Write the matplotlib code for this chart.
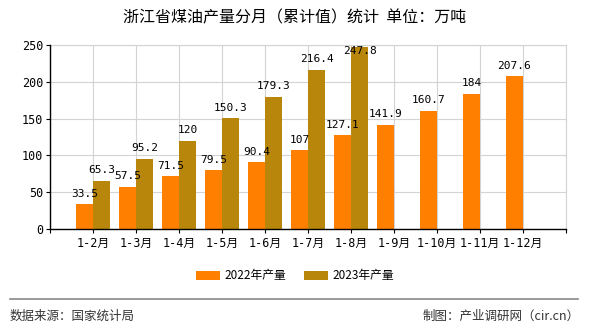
import numpy as np
import matplotlib.pyplot as plt
from matplotlib.lines import Line2D

plt.rcParams['font.family'] = ['Noto Sans CJK SC', 'DejaVu Sans']

months = ['1-2月', '1-3月', '1-4月', '1-5月', '1-6月', '1-7月', '1-8月',
          '1-9月', '1-10月', '1-11月', '1-12月']
prod_2022 = [33.5, 57.5, 71.5, 79.5, 90.4, 107, 127.1, 141.9, 160.7, 184, 207.6]
prod_2023 = [65.3, 95.2, 120, 150.3, 179.3, 216.4, 247.8]

c22 = '#ff8000'
c23 = '#b8860b'
mono = ['DejaVu Sans Mono', 'Noto Sans CJK SC']

fig = plt.figure(figsize=(5.9, 3.3), dpi=100)
ax = fig.add_axes([50/590, 1-229/330, 516/590, 184/330])

x = np.arange(1, len(months) + 1)
w = 0.4
b1 = ax.bar(x[:len(prod_2022)] - w/2, prod_2022, w, color=c22, label='2022年产量', zorder=3)
b2 = ax.bar(x[:len(prod_2023)] + w/2, prod_2023, w, color=c23, label='2023年产量', zorder=3)

ymax = 250
for bars, vals in ((b1, prod_2022), (b2, prod_2023)):
    for r, v in zip(bars, vals):
        cx = r.get_x() + r.get_width()/2
        if v > ymax - 15:
            # keep the label inside the plot, like the original
            ax.annotate('%g' % v, (cx, ymax), xytext=(0, -1), textcoords='offset points',
                        ha='center', va='top', fontsize=8, family=mono, zorder=5)
        else:
            ax.annotate('%g' % v, (cx, v), xytext=(0, 4), textcoords='offset points',
                        ha='center', va='bottom', fontsize=8, family=mono, zorder=5)

ax.set_xlim(0, 12)
ax.set_ylim(0, ymax)
ax.set_yticks(np.arange(0, 251, 50))
ax.set_xticks(np.arange(0, 13))
ax.set_xticklabels([''] + months + [''], family=mono, fontsize=8.5)
ax.tick_params(axis='y', labelsize=8.5, length=3, pad=2)
ax.tick_params(axis='x', length=3, pad=3)
for lab in ax.get_yticklabels():
    lab.set_family(mono)

ax.grid(True, color='#d3d3d3', linewidth=0.8, zorder=0)
ax.axvline(12, color='#d3d3d3', linewidth=0.8, zorder=0, clip_on=False)
ax.axhline(ymax, color='#d3d3d3', linewidth=0.8, zorder=0, clip_on=False)
ax.spines['top'].set_visible(False)
ax.spines['right'].set_visible(False)
for s in ('left', 'bottom'):
    ax.spines[s].set_color('black')
    ax.spines[s].set_linewidth(1)
    ax.spines[s].set_zorder(4)

fig.text(0.5, 1-18/330, '浙江省煤油产量分月（累计值）统计  单位：万吨',
         ha='center', va='center', fontsize=11.5)

fig.legend(handles=[b1, b2], loc='center', bbox_to_anchor=(0.5, 1-276/330),
           ncol=2, frameon=False, fontsize=8.5, handlelength=2.0,
           handleheight=0.8, columnspacing=1.5, handletextpad=0.4)

fig.add_artist(Line2D([10/590, 578/590], [1-299/330]*2, color='#888888', linewidth=1.2))
fig.text(10/590, 1-316/330, '数据来源：国家统计局', ha='left', va='center',
         fontsize=9, color='#333333')
fig.text(580/590, 1-316/330, '制图：产业调研网（cir.cn）', ha='right', va='center',
         fontsize=9, color='#333333')

fig.savefig('out.png', dpi=100)
